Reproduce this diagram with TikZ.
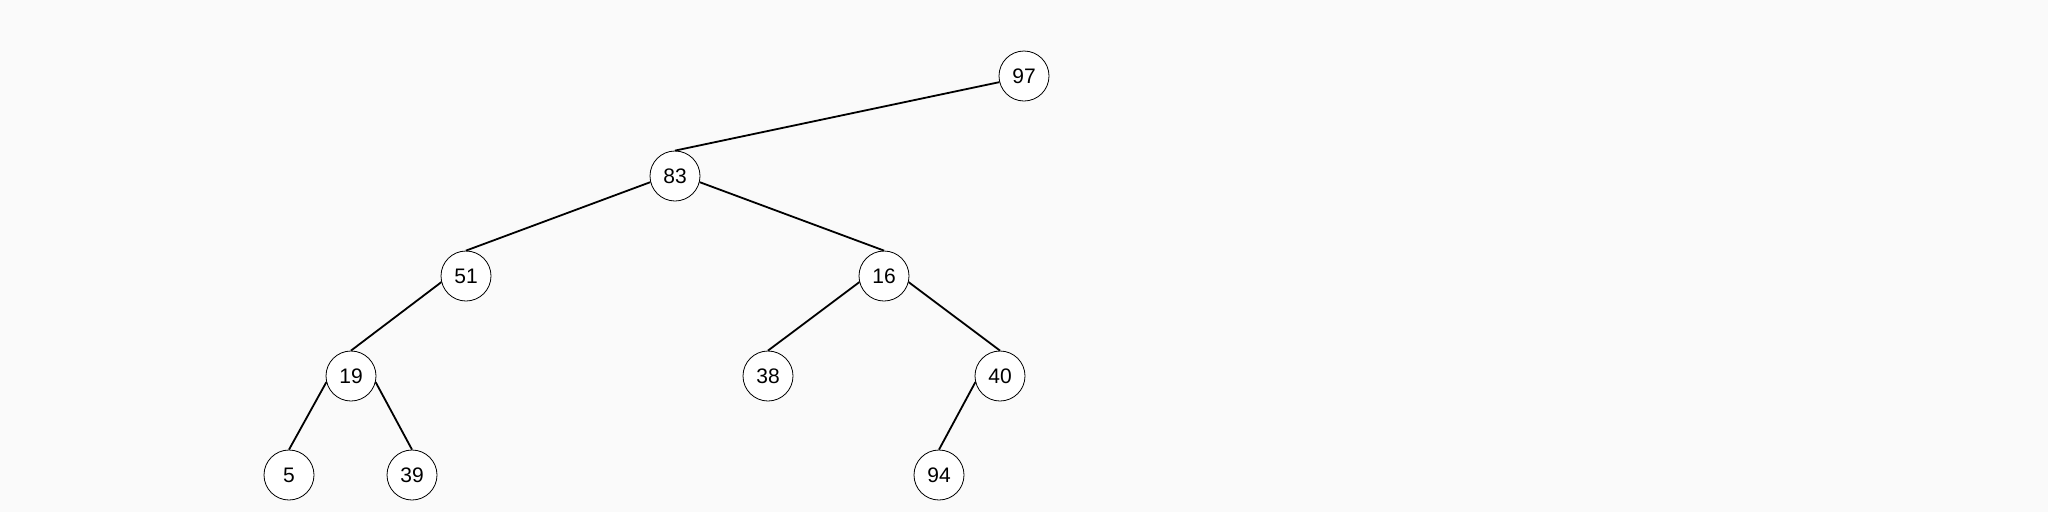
\documentclass[tikz,border=0pt]{standalone}
\usepackage{fontspec}
\setmainfont{Liberation Sans}
\definecolor{bgc}{HTML}{FAFAFA}
\begin{document}
\begin{tikzpicture}[x=1pt,y=-1pt,
  tnode/.style={circle,draw=black,line width=0.8pt,fill=white,minimum size=50pt,inner sep=0pt,font=\fontsize{21}{21}\selectfont},
  tedge/.style={line width=1.8pt,black}]
\fill[bgc] (0,0) rectangle (2048,512);
\useasboundingbox (0,0) rectangle (2048,512);
\node[tnode] (n97) at (1024,76) {97};
\node[tnode] (n83) at (675,176) {83};
\node[tnode] (n51) at (466,276) {51};
\node[tnode] (n16) at (884,276) {16};
\node[tnode] (n19) at (351,376) {19};
\node[tnode] (n38) at (768,376) {38};
\node[tnode] (n40) at (1000,376) {40};
\node[tnode] (n5) at (289,475) {5};
\node[tnode] (n39) at (412,475) {39};
\node[tnode] (n94) at (939,475) {94};
\draw[tedge] (n97.194) -- (n83.north);
\draw[tedge] (n83.194) -- (n51.north);
\draw[tedge] (n83.346) -- (n16.north);
\draw[tedge] (n51.194) -- (n19.north);
\draw[tedge] (n16.194) -- (n38.north);
\draw[tedge] (n16.346) -- (n40.north);
\draw[tedge] (n19.194) -- (n5.north);
\draw[tedge] (n19.346) -- (n39.north);
\draw[tedge] (n40.194) -- (n94.north);
\end{tikzpicture}
\end{document}
